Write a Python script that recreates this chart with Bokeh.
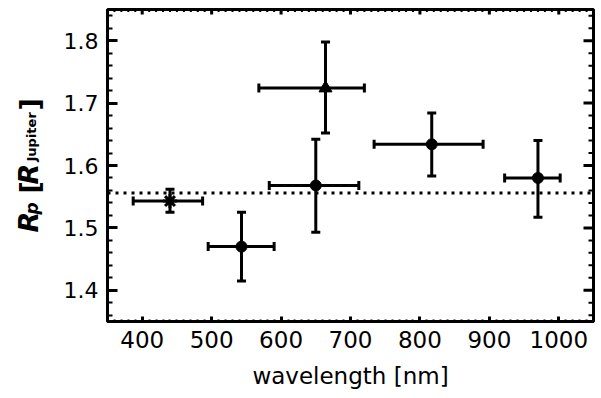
from bokeh.plotting import figure
from bokeh.models import (ColumnDataSource, Whisker, TeeHead, Span,
                          SingleIntervalTicker, Range1d)
from bokeh.layouts import row
from bokeh.core.properties import value
from bokeh.embed import file_html
from bokeh.resources import INLINE
import numpy as np
import math

# ---- data ----
wl      = [440, 543, 650, 664, 817, 970]
wl_lo   = [387, 495, 583, 568, 734, 922]
wl_hi   = [487, 590, 712, 720, 891, 1002]
rp      = [1.543, 1.470, 1.568, 1.724, 1.634, 1.580]
rp_lo   = [1.525, 1.415, 1.493, 1.652, 1.583, 1.517]
rp_hi   = [1.562, 1.525, 1.642, 1.798, 1.684, 1.640]
marker  = ["asterisk", "circle", "circle", "triangle", "circle", "circle"]
ref_rp  = 1.556

x_lim = (350, 1050)
y_lim = (1.35, 1.85)
x_major_step, x_minor_n = 100, 10
y_major_step, y_minor_n = 0.1, 5

FONT = "DejaVu Sans"
LW = 60                    # width of the y-label strip
FW, FH = 486, 312          # frame size in px
BL, BR, BT, BB = 107 - LW, 8, 9, 77

p = figure(frame_width=FW, frame_height=FH,
           min_border_left=BL, min_border_right=BR,
           min_border_top=BT, min_border_bottom=BB,
           x_range=x_lim, y_range=y_lim,
           output_backend="svg", toolbar_location=None)
p.background_fill_color = "white"
p.border_fill_color = "white"
p.xgrid.visible = False
p.ygrid.visible = False
p.outline_line_color = "black"
p.outline_line_width = 3

xt = SingleIntervalTicker(interval=x_major_step, num_minor_ticks=x_minor_n)
yt = SingleIntervalTicker(interval=y_major_step, num_minor_ticks=y_minor_n)

ax = p.xaxis[0]
ax.ticker = xt
ax.axis_line_width = 3
ax.major_tick_in, ax.major_tick_out = 5, 0
ax.minor_tick_in, ax.minor_tick_out = 2, 0
ax.major_tick_line_width = 3
ax.minor_tick_line_width = 2
ax.major_label_text_font = FONT
ax.major_label_text_font_size = "23px"
ax.major_label_text_color = "black"
ax.major_label_standoff = 9
ax.axis_label = "wavelength [nm]"
ax.axis_label_text_font = FONT
ax.axis_label_text_font_size = "23px"
ax.axis_label_text_font_style = "normal"
ax.axis_label_text_color = "black"
ax.axis_label_standoff = 12

ay = p.yaxis[0]
ay.ticker = yt
ay.axis_line_width = 3
ay.major_tick_in, ay.major_tick_out = 10, 0
ay.minor_tick_in, ay.minor_tick_out = 5, 0
ay.major_tick_line_width = 3
ay.minor_tick_line_width = 2
ay.major_label_text_font = FONT
ay.major_label_text_font_size = "22px"
ay.major_label_text_color = "black"
ay.major_label_standoff = 9

# ---- ticks on top and right edges (mirroring the axes) ----
dx = (x_lim[1] - x_lim[0]) / FW   # data per px
dy = (y_lim[1] - y_lim[0]) / FH
x_major = np.arange(400, 1000 + 1, x_major_step)
x_all = np.round(np.arange(x_lim[0], x_lim[1] + 1e-9, x_major_step / x_minor_n), 6)
x_minor = np.array([v for v in x_all if v % x_major_step != 0])
y_major = np.round(np.arange(1.4, 1.8 + 1e-9, y_major_step), 6)
y_all = np.round(np.arange(1.36, 1.85, y_major_step / y_minor_n), 6)
y_minor = np.array([v for v in y_all if not np.any(np.isclose(v, y_major))])

p.segment(x0=x_major, x1=x_major, y0=y_lim[1], y1=y_lim[1] - 5 * dy,
          line_color="black", line_width=3)
p.segment(x0=x_minor, x1=x_minor, y0=y_lim[1], y1=y_lim[1] - 2.5 * dy,
          line_color="black", line_width=2)
p.segment(x0=x_lim[1], x1=x_lim[1] - 10 * dx, y0=y_major, y1=y_major,
          line_color="black", line_width=3)
p.segment(x0=x_lim[1], x1=x_lim[1] - 5 * dx, y0=y_minor, y1=y_minor,
          line_color="black", line_width=2)

src = ColumnDataSource(dict(x=wl, xlo=wl_lo, xhi=wl_hi,
                            y=rp, ylo=rp_lo, yhi=rp_hi))

# reference line
p.add_layout(Span(location=ref_rp, dimension="width", line_color="black",
                  line_width=3, line_dash="3 5"))

# error bars
def head():
    return TeeHead(size=9, line_width=3, line_color="black")
p.add_layout(Whisker(source=src, base="x", lower="ylo", upper="yhi",
                     dimension="height", line_width=3, line_color="black",
                     lower_head=head(), upper_head=head()))
p.add_layout(Whisker(source=src, base="y", lower="xlo", upper="xhi",
                     dimension="width", line_width=3, line_color="black",
                     lower_head=head(), upper_head=head()))

# markers
circ = [i for i, m in enumerate(marker) if m == "circle"]
tri = [i for i, m in enumerate(marker) if m == "triangle"]
ast = [i for i, m in enumerate(marker) if m == "asterisk"]
p.scatter([wl[i] for i in circ], [rp[i] for i in circ], marker="circle",
          size=11, color="black")
p.scatter([wl[i] for i in tri], [rp[i] for i in tri], marker="triangle",
          size=13, color="black")
p.scatter([wl[i] for i in ast], [rp[i] for i in ast], marker="asterisk",
          size=14, line_color="black", line_width=3)

# ---- y axis label strip: "R_p [R_Jupiter]" from rotated pieces ----
# the strip's data coordinates equal its pixel coordinates (y from top)
lab = figure(frame_width=LW, frame_height=398, min_border=0,
             x_range=Range1d(0, LW), y_range=Range1d(398, 0),
             x_axis_location=None, y_axis_location=None,
             output_backend="svg", toolbar_location=None)
lab.outline_line_color = None
lab.xgrid.visible = False
lab.ygrid.visible = False
lab.background_fill_color = "white"
lab.border_fill_color = "white"

pieces = [  # text, px x (baseline), px y (start), size, style
    ("R", 28, 223, "27px", "bold italic"),
    ("p", 31, 205, "17px", "bold italic"),
    ("[", 29, 184, "27px", "bold"),
    ("R", 28, 175, "27px", "bold italic"),
    ("Jupiter", 31, 152, "13px", "bold"),
    ("]", 29, 101, "27px", "bold"),
]
for txt, cx, cy, fs, st in pieces:
    lab.text(x=[cx], y=[cy], text=[txt], angle=math.pi / 2,
             text_font=value(FONT), text_font_size=value(fs),
             text_font_style=value(st), text_color="black",
             text_align="left", text_baseline="alphabetic")

layout = row(lab, p, spacing=0)
open("out.html", "w").write(file_html(layout, INLINE))
